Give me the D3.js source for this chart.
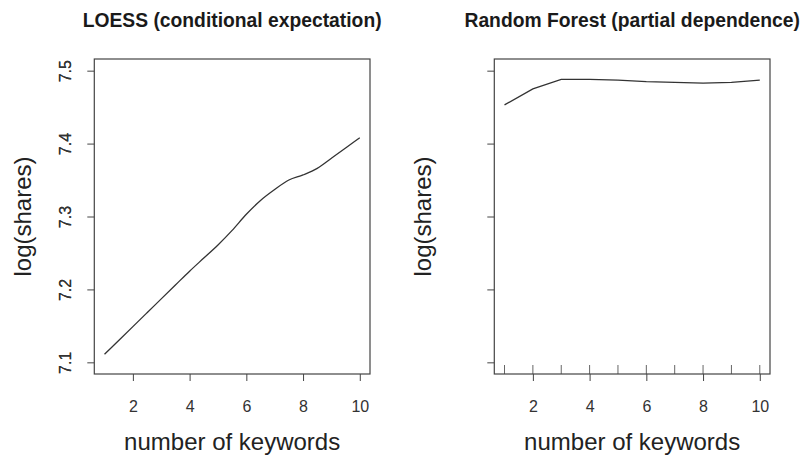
<!DOCTYPE html>
<html>
<head>
<meta charset="utf-8">
<script src="https://cdn.jsdelivr.net/npm/d3@7"></script>
<style>
  html, body { margin: 0; padding: 0; background: #fff; }
  svg { display: block; font-family: "Liberation Sans", Arial, Helvetica, sans-serif; }
</style>
</head>
<body>
<svg id="chart" width="804" height="460"></svg>
<script>
// ---- data ----
const titles = ["LOESS (conditional expectation)", "Random Forest (partial dependence)"];
const xLabel = "number of keywords";
const yLabel = "log(shares)";
const xTicks = [2, 4, 6, 8, 10];
const yTicks = [7.1, 7.2, 7.3, 7.4, 7.5];
const loessX = [1, 1.5, 2, 2.5, 3, 3.5, 4, 4.5, 5, 5.5, 6, 6.5, 7, 7.5, 8, 8.5, 9, 9.5, 10];
const loessY = [7.111, 7.130, 7.149, 7.168, 7.187, 7.206, 7.225, 7.243, 7.261, 7.281, 7.303, 7.322, 7.337, 7.350, 7.357, 7.366, 7.380, 7.394, 7.408];
const rfX = [1, 2, 3, 4, 5, 6, 7, 8, 9, 10];
const rfY = [7.453, 7.475, 7.488, 7.488, 7.487, 7.485, 7.484, 7.483, 7.484, 7.487];
const rugX = [1, 2, 3, 4, 5, 6, 7, 8, 9, 10];
const xDomain = [1, 10];
const yDomain = [7.1, 7.5];

// ---- layout ----
const svg = d3.select("#chart");
const plotTop = 59, plotBottom = 374, panelW = 275.7;
const lefts = [94.3, 494.3];
const pad = d => { const r = d[1] - d[0]; return [d[0] - 0.04 * r, d[1] + 0.04 * r]; };

const series = [
  { xs: loessX, ys: loessY, curve: d3.curveMonotoneX, rug: false },
  { xs: rfX, ys: rfY, curve: d3.curveLinear, rug: true }
];

series.forEach((s, i) => {
  const left = lefts[i];
  const x = d3.scaleLinear().domain(pad(xDomain)).range([left, left + panelW]);
  const y = d3.scaleLinear().domain(pad(yDomain)).range([plotBottom, plotTop]);
  const g = svg.append("g");

  g.append("text")
    .attr("x", left + panelW / 2).attr("y", 27)
    .attr("text-anchor", "middle")
    .attr("font-size", "19.3px").attr("font-weight", "bold")
    .attr("fill", "#1a1a1a")
    .text(titles[i]);

  if (s.rug) {
    g.append("g").selectAll("line").data(rugX).join("line")
      .attr("x1", d => x(d)).attr("x2", d => x(d))
      .attr("y1", plotBottom).attr("y2", plotBottom - 9)
      .attr("stroke", "#666").attr("stroke-width", 1);
  }

  const data = s.xs.map((v, k) => [v, s.ys[k]]);
  g.append("path")
    .datum(data)
    .attr("fill", "none")
    .attr("stroke", "#333")
    .attr("stroke-width", 1.3)
    .attr("d", d3.line().x(d => x(d[0])).y(d => y(d[1])).curve(s.curve));

  const xa = g.append("g")
    .attr("transform", `translate(0,${plotBottom})`)
    .call(d3.axisBottom(x).tickValues(xTicks).tickSize(7).tickPadding(0).tickFormat(d3.format("d")));
  xa.select(".domain").remove();
  xa.selectAll(".tick line").attr("stroke", "#444").attr("stroke-width", 1);
  xa.selectAll(".tick text")
    .attr("y", 37.5).attr("dy", null)
    .attr("font-size", "16px").attr("fill", "#333")
    .attr("font-family", "Liberation Sans, Arial, sans-serif");

  const ya = g.append("g")
    .attr("transform", `translate(${left},0)`)
    .call(d3.axisLeft(y).tickValues(yTicks).tickSize(7).tickFormat(d3.format(".1f")));
  ya.select(".domain").remove();
  ya.selectAll(".tick line").attr("stroke", "#444").attr("stroke-width", 1);
  ya.selectAll(".tick text")
    .attr("x", null).attr("dy", null)
    .attr("transform", `translate(${70.5 - left},0) rotate(-90)`)
    .attr("text-anchor", "middle")
    .attr("font-size", "16px").attr("fill", "#333")
    .attr("font-family", "Liberation Sans, Arial, sans-serif");

  g.append("rect")
    .attr("x", left).attr("y", plotTop)
    .attr("width", panelW).attr("height", plotBottom - plotTop)
    .attr("fill", "none").attr("stroke", "#444").attr("stroke-width", 1.2);

  g.append("text")
    .attr("x", left + panelW / 2).attr("y", 450)
    .attr("text-anchor", "middle")
    .attr("font-size", "24px").attr("fill", "#222")
    .text(xLabel);
  g.append("text")
    .attr("transform", `translate(${left - 63.8},${(plotTop + plotBottom) / 2}) rotate(-90)`)
    .attr("text-anchor", "middle")
    .attr("font-size", "24px").attr("fill", "#222")
    .text(yLabel);
});
</script>
</body>
</html>
